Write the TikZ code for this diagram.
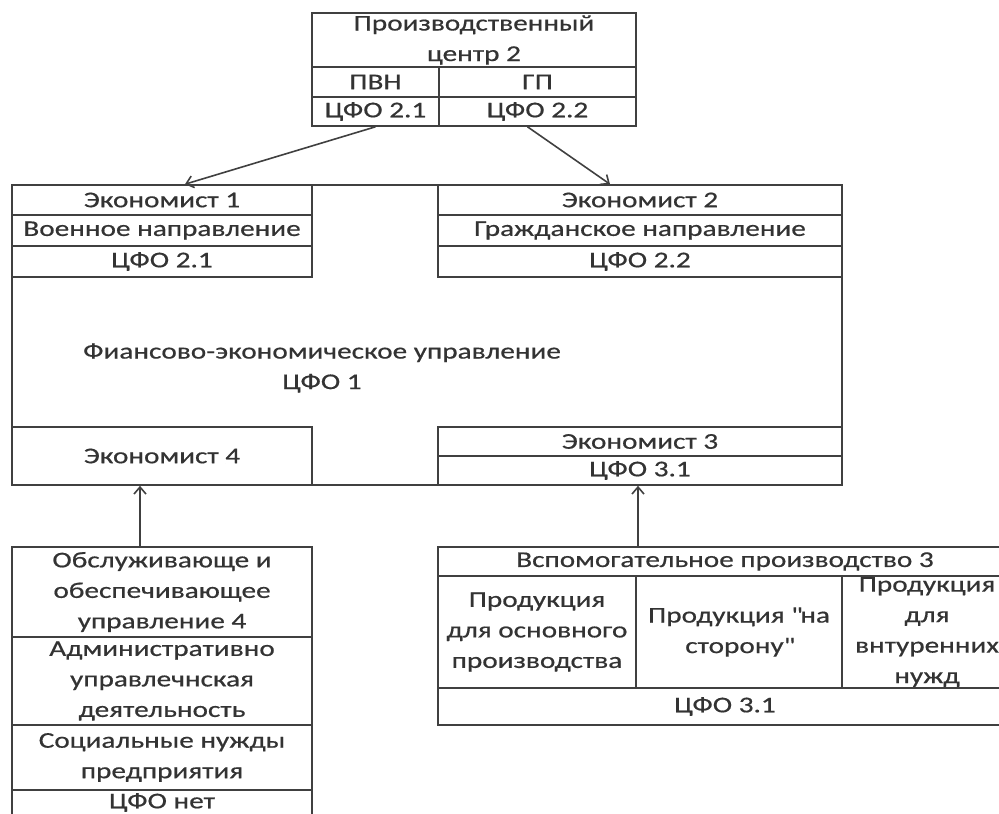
\documentclass[tikz,border=0pt]{standalone}
\usepackage{fontspec}
\setmainfont{Carlito}[FakeStretch=1.3, FakeBold=0.6]
\usetikzlibrary{calc,arrows.meta}
\def\cell(#1)(#2,#3,#4,#5)#6{\node[cell, minimum width={#4-#2}, minimum height={#5-#3}] (#1) at ({(#2+#4)/2},{(#3+#5)/2}) {#6};}

\begin{document}
\begin{tikzpicture}[x=1pt, y=-1pt,
		cell/.style={draw=black!75, line width=1.6pt, inner sep=0pt, align=center, text=black!80, font=\fontsize{22.5}{30.5}\selectfont},
		lbl/.style={inner sep=0pt, align=center, text=black!80, font=\fontsize{22.5}{30.5}\selectfont},
		arr/.style={draw=black!75, line width=1.6pt, -{Straight Barb[length=7pt, width=12pt, line width=1.6pt]}}]
				\clip (0,0) rectangle (999,814);
				
				\cell(pc)(312,13,636,67){Производственный\\центр 2}
				\cell(pvn)(312,67,439,97){ПВН}
				\cell(gp)(439,67,636,97){ГП}
				\cell(c21)(312,97,439,126){ЦФО 2.1}
				\cell(c22)(439,97,636,126){ЦФО 2.2}
				
				\cell(feu)(12,185,842,485){}
				\node[lbl] (feulbl) at (322,368) {Фиансово-экономическое управление\\ЦФО 1};
				
				\cell(e1)(12,185,312,215){Экономист 1}
				\cell(vn)(12,215,312,246){Военное направление}
				\cell(c21b)(12,246,312,277){ЦФО 2.1}
				
				\cell(e2)(438,185,842,215){Экономист 2}
				\cell(gn)(438,215,842,246){Гражданское направление}
				\cell(c22b)(438,246,842,277){ЦФО 2.2}
				
				\cell(e4)(12,427,312,485){Экономист 4}
				\cell(e3)(438,427,842,456){Экономист 3}
				\cell(c31)(438,456,842,485){ЦФО 3.1}
				
				\cell(ou)(12,547,312,637){Обслуживающе и\\обеспечивающее\\управление 4}
				\cell(adm)(12,637,312,725){Административно\\управлечнская\\деятельность}
				\cell(soc)(12,725,312,790){Социальные нужды\\предприятия}
				\cell(cfn)(12,790,312,815){ЦФО нет}
				
				\cell(vp)(438,547,1012,576){Вспомогательное производство 3}
				\cell(p1)(438,576,636,688){Продукция\\для основного\\производства}
				\cell(p2)(636,576,842,688){Продукция \textquotedbl на\\сторону\textquotedbl}
				\cell(p3)(842,576,1012,688){Продукция\\для\\внтуренних\\нужд}
				\cell(c31b)(438,688,1012,725){ЦФО 3.1}
				
				\draw[arr] (c21.south) -- ([xshift=23pt]e1.north);
				\draw[arr] ([xshift=-10pt]c22.south) -- ([xshift=-30pt]e2.north);
				\draw[arr] ([xshift=-22pt]ou.north) -- ([xshift=-22pt]e4.south);
				\draw[arr] ([xshift=-87pt]vp.north) -- ([xshift=-2pt]c31.south);
			\end{tikzpicture}
\end{document}
